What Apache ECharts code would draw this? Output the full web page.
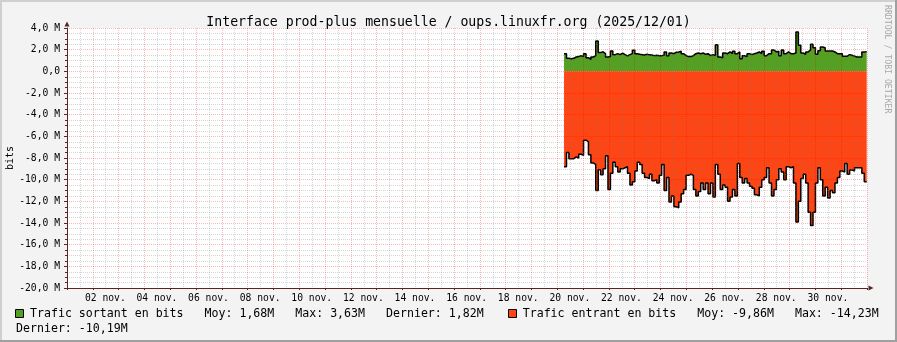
<!DOCTYPE html>
<html><head><meta charset="utf-8">
<script src="https://cdn.jsdelivr.net/npm/echarts@6/dist/echarts.min.js"></script>
<style>html,body{margin:0;padding:0;background:#F3F3F3}#c{width:897px;height:342px}</style>
</head><body><div id="c"></div>
<script>
// ---- data (values in Mbit/s) ----
const titleText = 'Interface prod-plus mensuelle / oups.linuxfr.org (2025/12/01)';
const yAxisName = 'bits';
const xTickLabels = ['02 nov.','04 nov.','06 nov.','08 nov.','10 nov.','12 nov.','14 nov.','16 nov.','18 nov.','20 nov.','22 nov.','24 nov.','26 nov.','28 nov.','30 nov.'];
const yTickLabels = ['-20,0 M','-18,0 M','-16,0 M','-14,0 M','-12,0 M','-10,0 M','-8,0 M','-6,0 M','-4,0 M','-2,0 M','0,0','2,0 M','4,0 M'];
const dataStartDay = 19.26;   // days after 01 nov. 00:00
const stepHours = 2.27;
const outTraffic = [1.63,1.2,1.17,1.2,1.32,1.36,1.45,1.36,1.63,1.26,
 1.1,1.32,1.45,2.8,1.73,1.8,1.63,1.32,1.36,1.88,
 1.54,1.63,1.54,1.69,1.54,1.42,1.54,1.63,1.94,1.63,
 1.57,1.54,1.5,1.57,1.52,1.5,1.45,1.48,1.45,1.45,
 1.48,1.79,1.45,1.69,1.63,1.76,1.79,1.85,1.63,1.45,
 1.36,1.36,1.45,1.63,1.69,1.63,1.69,1.57,1.63,1.45,
 1.54,1.45,2.46,1.32,1.26,1.69,1.63,1.79,1.63,1.85,
 1.63,1.79,1.17,1.45,1.36,1.63,1.54,1.63,1.69,1.79,
 1.63,1.85,1.45,1.63,1.63,1.97,1.79,1.85,1.45,1.97,
 1.63,1.79,1.63,1.63,1.69,3.63,2.4,1.69,1.57,1.79,
 1.97,2.49,2.18,1.57,1.91,2.25,2.18,1.88,1.88,1.88,
 1.79,1.63,1.63,1.63,1.4,1.4,1.54,1.48,1.4,1.32,
 1.32,1.32,1.78,1.82];
const inTraffic = [-8.8,-7.5,-8.06,-8.06,-7.9,-8.0,-7.66,-7.75,-6.35,-6.5,
 -7.7,-8.46,-8.6,-11.0,-9.08,-9.55,-9.0,-7.8,-10.9,-9.4,
 -8.4,-8.8,-9.3,-9.0,-8.9,-8.8,-9.4,-10.5,-10.2,-9.2,
 -8.4,-8.6,-9.4,-9.8,-9.9,-9.5,-10.1,-10.0,-10.3,-9.6,
 -8.6,-11.0,-9.8,-12.07,-11.5,-12.5,-12.6,-12.07,-11.3,-10.9,
 -9.6,-9.5,-9.6,-10.9,-11.5,-11.1,-10.3,-10.9,-10.3,-11.3,
 -10.3,-11.6,-8.6,-9.5,-10.9,-10.5,-10.7,-12.0,-11.6,-10.9,
 -11.5,-8.5,-9.8,-10.3,-9.9,-10.3,-10.6,-10.8,-11.4,-11.5,
 -10.7,-10.0,-9.8,-8.9,-10.3,-11.5,-10.9,-10.0,-9.0,-9.3,
 -10.0,-8.8,-8.9,-8.8,-10.3,-13.9,-12.0,-9.9,-9.5,-10.3,
 -13.0,-14.23,-13.0,-10.3,-8.9,-10.0,-11.5,-10.7,-11.7,-11.0,
 -11.2,-10.3,-9.8,-9.2,-9.3,-8.5,-9.5,-9.1,-9.2,-8.9,
 -8.9,-8.9,-9.4,-10.19];
const outLegend = ['Trafic sortant en bits', '1,68M', '3,63M', '1,82M'];
const inLegend  = ['Trafic entrant en bits', '-9,86M', '-14,23M', '-10,19M'];

// ---- build ----
const MONO = 'DejaVu Sans Mono';
const stepDays = stepHours / 24;
function toPoints(vals) {
  const pts = vals.map((v, i) => [dataStartDay + i * stepDays, v]);
  pts.push([dataStartDay + vals.length * stepDays, vals[vals.length - 1]]);
  return pts;
}
const axisColor = '#5A2424';
const minorGrid = { color: 'rgba(120,120,120,0.3)', width: 1, type: [1, 1] };
const majorGrid = { color: 'rgba(230,0,0,0.27)', width: 1, type: [1, 1] };

const chart = echarts.init(document.getElementById('c'), null, { renderer: 'canvas' });
chart.setOption({
  backgroundColor: '#F3F3F3',
  animation: false,
  title: {
    text: titleText, left: 'center', top: 11,
    textStyle: { fontFamily: MONO, fontSize: 13.2, fontWeight: 'normal', color: '#000' }
  },
  grid: { left: 67, top: 28, right: 30, bottom: 54, show: true, backgroundColor: '#FFFFFF', borderWidth: 0, outerBoundsMode: 'none' },
  xAxis: {
    type: 'value', min: 0, max: 31, interval: 1, z: 5,
    axisLine: { onZero: false, lineStyle: { color: axisColor, width: 1 }, symbol: ['none', 'triangle'], symbolSize: [5, 5], symbolOffset: [0, 4] },
    axisTick: { show: true, length: 2, lineStyle: { color: axisColor } },
    minorTick: { show: true, splitNumber: 2, length: 1, lineStyle: { color: axisColor } },
    splitLine: { show: true, lineStyle: majorGrid },
    minorSplitLine: { show: true, lineStyle: minorGrid },
    axisLabel: {
      margin: 5, fontFamily: MONO, fontSize: 9.7, color: '#000', padding: [0, 0, 0, 25],
      showMinLabel: true, showMaxLabel: true, hideOverlap: false,
      formatter: v => (v % 2 === 1 && xTickLabels[(v - 1) / 2]) ? xTickLabels[(v - 1) / 2] : ''
    }
  },
  yAxis: {
    type: 'value', min: -20, max: 4, interval: 2, z: 5,
    axisLine: { show: true, onZero: false, lineStyle: { color: axisColor, width: 1 }, symbol: ['none', 'triangle'], symbolSize: [5, 5], symbolOffset: [0, 4] },
    axisTick: { show: true, length: 3, lineStyle: { color: axisColor } },
    minorTick: { show: true, splitNumber: 4, length: 2, lineStyle: { color: axisColor } },
    splitLine: { show: true, lineStyle: majorGrid },
    minorSplitLine: { show: true, lineStyle: minorGrid },
    axisLabel: {
      margin: 7, fontFamily: MONO, fontSize: 9.7, color: '#000',
      formatter: v => yTickLabels[Math.round((v + 20) / 2)] || ''
    }
  },
  series: [
    {
      name: outLegend[0], type: 'line', step: 'end', symbol: 'none', z: 2,
      data: toPoints(outTraffic),
      lineStyle: { color: '#000', width: 1.5 },
      areaStyle: { color: '#54A020', opacity: 1 }
    },
    {
      name: inLegend[0], type: 'line', step: 'end', symbol: 'none', z: 2,
      data: toPoints(inTraffic),
      lineStyle: { color: '#000', width: 1.5 },
      areaStyle: { color: '#FF4513', opacity: 1 }
    }
  ],
  graphic: [
    { type: 'rect', shape: { x: 0, y: 0, width: 897, height: 2 }, style: { fill: '#CFCFCF' }, z: 10 },
    { type: 'rect', shape: { x: 0, y: 0, width: 2, height: 342 }, style: { fill: '#CFCFCF' }, z: 10 },
    { type: 'rect', shape: { x: 0, y: 340, width: 897, height: 2 }, style: { fill: '#A0A0A0' }, z: 11 },
    { type: 'rect', shape: { x: 895, y: 0, width: 2, height: 342 }, style: { fill: '#A0A0A0' }, z: 11 },
    { type: 'text', x: 10, y: 158, rotation: Math.PI / 2,
      style: { text: yAxisName, fontFamily: MONO, fontSize: 10, fill: '#000', align: 'center', verticalAlign: 'middle' } },
    { type: 'text', x: 887, y: 5, rotation: -Math.PI / 2,
      style: { text: 'RRDTOOL / TOBI OETIKER', fontFamily: MONO, fontSize: 8.2, fill: '#A8A8A8', align: 'left', verticalAlign: 'middle' } },
    { type: 'rect', shape: { x: 15.5, y: 309.5, width: 8, height: 8 }, style: { fill: '#54A020', stroke: '#000', lineWidth: 1 } },
    { type: 'text', x: 30, y: 314,
      style: { text: outLegend[0] + '   Moy: ' + outLegend[1] + '   Max: ' + outLegend[2] + '   Dernier: ' + outLegend[3],
               fontFamily: MONO, fontSize: 11.6, fill: '#000', align: 'left', verticalAlign: 'middle' } },
    { type: 'rect', shape: { x: 508.5, y: 309.5, width: 8, height: 8 }, style: { fill: '#FF4513', stroke: '#000', lineWidth: 1 } },
    { type: 'text', x: 522.7, y: 314,
      style: { text: inLegend[0] + '   Moy: ' + inLegend[1] + '   Max: ' + inLegend[2],
               fontFamily: MONO, fontSize: 11.6, fill: '#000', align: 'left', verticalAlign: 'middle' } },
    { type: 'text', x: 16, y: 329,
      style: { text: 'Dernier: ' + inLegend[3], fontFamily: MONO, fontSize: 11.6, fill: '#000', align: 'left', verticalAlign: 'middle' } }
  ]
});
</script>
</body></html>
